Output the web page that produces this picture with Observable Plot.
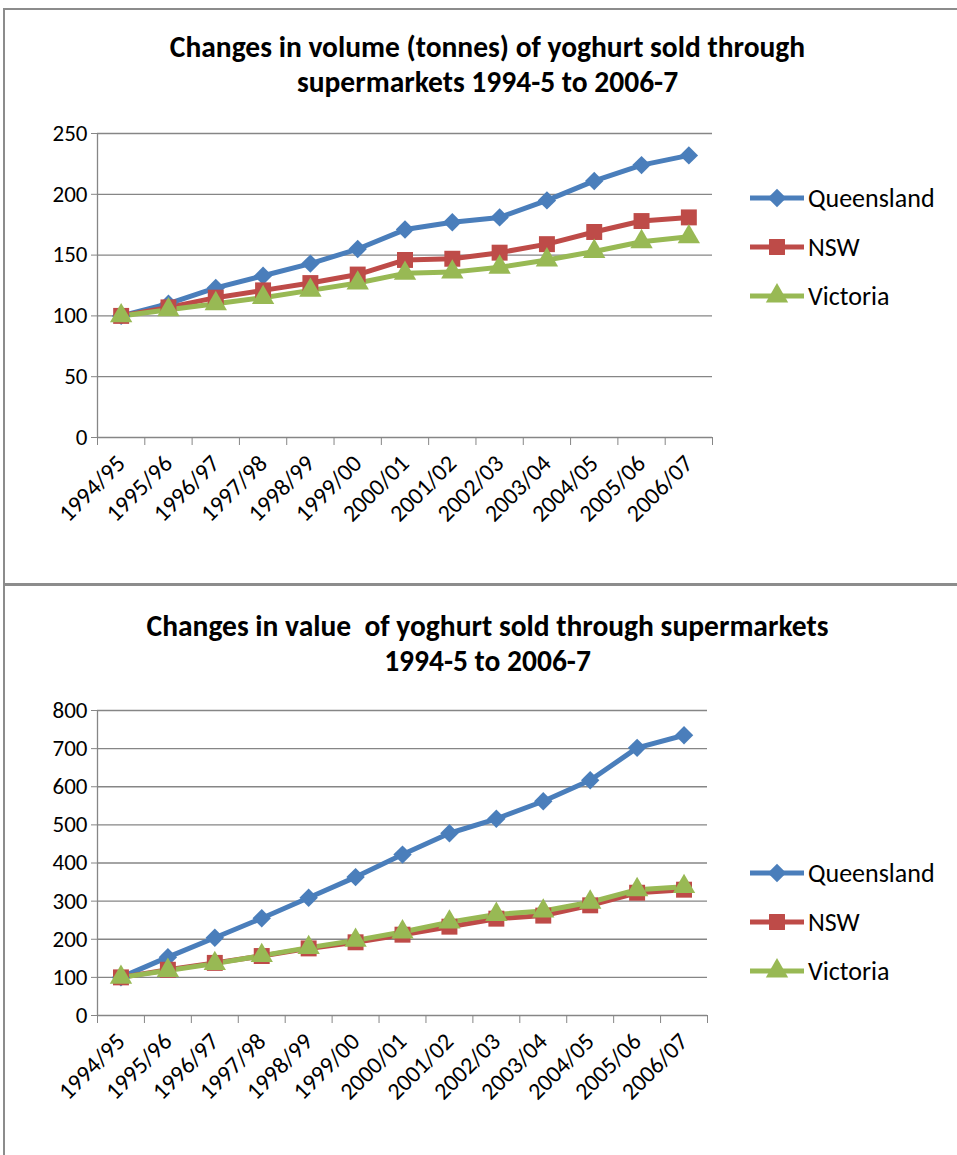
<!DOCTYPE html>
<html><head><meta charset="utf-8">
<script src="https://cdn.jsdelivr.net/npm/d3@7"></script>
<script src="https://cdn.jsdelivr.net/npm/@observablehq/plot@0.6"></script>
<style>
body{margin:0;background:#fff;}
#page{position:relative;width:957px;height:1155px;overflow:hidden;font-family:Carlito,Lato,"Liberation Sans",sans-serif;color:#000;}
.frame{position:absolute;left:3px;width:1000px;border-left:2px solid #8c8c8c;border-top:2px solid #8c8c8c;}
.title{position:absolute;left:0;width:975px;text-align:center;font-weight:bold;font-size:29.5px;line-height:35px;white-space:pre;}
.chart{position:absolute;left:0;}
.legend{position:absolute;left:0;}
</style></head><body><div id="page"></div>
<script>
const periods = ["1994/95","1995/96","1996/97","1997/98","1998/99","1999/00","2000/01","2001/02","2002/03","2003/04","2004/05","2005/06","2006/07"];
const series = ["Queensland","NSW","Victoria"];
const colors = ["#4A7EBB","#BE4B48","#98B954"];
const symbols = ["diamond2","square","triangle"];
const markerR = [8.3,9,8.3];

// Volume index (1994/95 = 100)
const volQueensland = [100,110,123,133,143,155,171,177,181,195,211,224,232];
const volNSW        = [100,107,115,121,127,134,146,147,152,159,169,178,181];
const volVictoria   = [100,105,110,115,121,127,135,136,140,146,153,161,165];
// Value index (1994/95 = 100)
const valQueensland = [100,153,204,255,309,363,422,478,516,562,617,702,735];
const valNSW        = [100,120,138,156,176,192,212,233,254,262,289,322,330];
const valVictoria   = [100,118,136,157,178,197,219,245,265,274,297,330,338];

const titles = [
  ["Changes in volume (tonnes) of yoghurt sold through","supermarkets 1994-5 to 2006-7"],
  ["Changes in value  of yoghurt sold through supermarkets","1994-5 to 2006-7"]
];

const page = document.getElementById("page");
const FONT = 'Carlito, Lato, "Liberation Sans", sans-serif';
const GRID = "#868686";

function rows(arrs){
  const out = [];
  arrs.forEach((arr, s) => arr.forEach((v, i) => out.push({i, period: periods[i], series: series[s], value: v})));
  return out;
}

function addFrame(top, height, bw){
  const f = document.createElement("div");
  f.className = "frame";
  f.style.top = top + "px";
  f.style.height = height + "px";
  f.style.borderTopWidth = bw + "px";
  page.appendChild(f);
}

function addTitle(lines, top){
  const t = document.createElement("div");
  t.className = "title";
  t.style.top = top + "px";
  t.textContent = lines.join("\n");
  page.appendChild(t);
}

function addChart({data, yMax, yStep, svgTop, svgHeight, plotTop, plotBottom, xLeft, xRight}){
  const ticks = d3.range(0, yMax + yStep/2, yStep);
  const marks = [
    Plot.ruleY(ticks, {stroke: GRID, strokeWidth: 1.3}),
    Plot.ruleX([-0.5], {y1: 0, y2: yMax, stroke: GRID, strokeWidth: 1.3}),
    Plot.axisY(ticks, {label: null, tickSize: 6, tickPadding: 4, fontSize: 23, stroke: GRID, fill: "#000", tickFormat: d => String(d)}),
    Plot.axisX(d3.range(-0.5, periods.length, 1), {label: null, tickSize: 8, tickFormat: () => "", stroke: GRID}),
    Plot.axisX(d3.range(0, periods.length), {label: null, tickSize: 0, tickPadding: 22, tickRotate: -45, fontSize: 24, fill: "#000", tickFormat: i => periods[i]}),
    Plot.line(data, {x: "i", y: "value", z: "series", stroke: "series", strokeWidth: 5, strokeLinejoin: "round"})
  ];
  series.forEach((s, k) => {
    marks.push(Plot.dot(data.filter(d => d.series === s), {x: "i", y: "value", fill: "series", symbol: "series", r: markerR[k], stroke: "none"}));
  });
  const svg = Plot.plot({
    width: 957,
    height: svgHeight,
    marginTop: plotTop - svgTop,
    marginBottom: svgTop + svgHeight - plotBottom,
    marginLeft: xLeft,
    marginRight: 957 - xRight,
    style: {fontFamily: FONT, fontSize: "23px", background: "transparent", overflow: "visible"},
    x: {type: "linear", domain: [-0.5, periods.length - 0.5], axis: null},
    y: {domain: [0, yMax], axis: null},
    color: {domain: series, range: colors},
    symbol: {domain: series, range: symbols},
    marks
  });
  const wrap = document.createElement("div");
  wrap.className = "chart";
  wrap.style.top = svgTop + "px";
  wrap.appendChild(svg);
  page.appendChild(wrap);
}

function addLegend(top){
  const w = 220, h = 130;
  const svg = d3.create("svg").attr("width", w).attr("height", h).style("overflow", "visible");
  series.forEach((s, k) => {
    const g = svg.append("g").attr("transform", `translate(0,${k * 49})`);
    g.append("line").attr("x1", 0).attr("x2", 54).attr("y1", 0).attr("y2", 0)
      .attr("stroke", colors[k]).attr("stroke-width", 5);
    const sym = {diamond2: d3.symbolDiamond2, square: d3.symbolSquare, triangle: d3.symbolTriangle}[symbols[k]];
    g.append("path").attr("transform", "translate(27,0)")
      .attr("d", d3.symbol(sym, markerR[k] * markerR[k] * Math.PI)()).attr("fill", colors[k]);
    g.append("text").attr("x", 58).attr("y", 0).attr("dy", "0.35em")
      .attr("font-size", 26).attr("font-family", FONT).attr("fill", "#000").text(s);
  });
  const node = svg.node();
  const d = document.createElement("div");
  d.className = "legend";
  d.style.left = "750px";
  d.style.top = top + "px";
  node.style.position = "absolute";
  node.style.left = "0px";
  node.style.top = "0px";
  d.appendChild(node);
  page.appendChild(d);
}

addFrame(8, 1200, 2);
addFrame(583, 700, 3);

addTitle(titles[0], 30);
addChart({data: rows([volQueensland, volNSW, volVictoria]), yMax: 250, yStep: 50,
  svgTop: 100, svgHeight: 470, plotTop: 133, plotBottom: 437, xLeft: 97, xRight: 712});
addLegend(198);

addTitle(titles[1], 609);
addChart({data: rows([valQueensland, valNSW, valVictoria]), yMax: 800, yStep: 100,
  svgTop: 690, svgHeight: 460, plotTop: 710, plotBottom: 1015, xLeft: 97, xRight: 707});
addLegend(873);
</script>
</body></html>
